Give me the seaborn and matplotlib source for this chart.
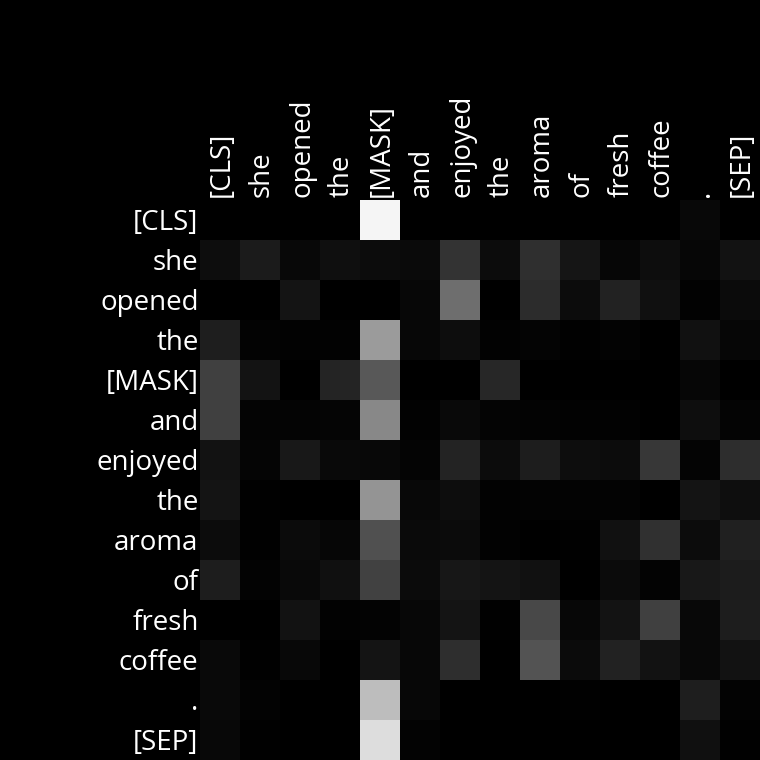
#!/usr/bin/env python
"""Attention map for a masked sentence, drawn as a grayscale heatmap."""

import matplotlib

matplotlib.use("Agg")
import matplotlib.pyplot as plt
import matplotlib.transforms as mtransforms
import numpy as np
import pandas as pd
import seaborn as sns

TOKENS = ["[CLS]", "she", "opened", "the", "[MASK]", "and", "enjoyed",
          "the", "aroma", "of", "fresh", "coffee", ".", "[SEP]"]

# attention weights (grey level / 255), one list per query row
ROW_CLS = [0, 0, 0, 0, 245, 0, 0, 0, 0, 0, 0, 0, 8, 0]
ROW_SHE = [13, 27, 8, 15, 12, 10, 51, 12, 47, 21, 6, 13, 6, 18]
ROW_OPENED = [0, 0, 20, 0, 0, 7, 110, 0, 44, 12, 34, 16, 2, 11]
ROW_THE_1 = [30, 3, 2, 2, 155, 7, 13, 2, 4, 1, 3, 0, 17, 6]
ROW_MASK = [64, 19, 0, 36, 88, 0, 0, 39, 0, 0, 0, 0, 6, 0]
ROW_AND = [64, 4, 4, 5, 136, 2, 9, 4, 3, 2, 2, 0, 14, 4]
ROW_ENJOYED = [18, 5, 24, 9, 8, 4, 35, 12, 29, 13, 12, 55, 4, 45]
ROW_THE_2 = [20, 1, 0, 0, 148, 8, 13, 2, 3, 3, 3, 0, 20, 14]
ROW_AROMA = [12, 1, 11, 6, 80, 10, 11, 2, 0, 1, 17, 48, 12, 32]
ROW_OF = [29, 3, 9, 16, 65, 11, 23, 20, 17, 0, 11, 3, 24, 28]
ROW_FRESH = [0, 0, 18, 2, 3, 7, 20, 1, 72, 7, 19, 64, 8, 29]
ROW_COFFEE = [9, 1, 8, 0, 20, 7, 46, 0, 83, 11, 34, 18, 8, 18]
ROW_DOT = [9, 3, 0, 0, 189, 7, 0, 0, 0, 1, 0, 0, 30, 3]
ROW_SEP = [8, 1, 0, 0, 221, 3, 0, 0, 0, 0, 0, 0, 16, 1]


def main() -> None:
    rows = [ROW_CLS, ROW_SHE, ROW_OPENED, ROW_THE_1, ROW_MASK, ROW_AND, ROW_ENJOYED,
            ROW_THE_2, ROW_AROMA, ROW_OF, ROW_FRESH, ROW_COFFEE, ROW_DOT, ROW_SEP]
    weights = pd.DataFrame(np.array(rows) / 255.0)

    sns.set_style("dark")
    plt.rcParams["font.family"] = ["Open Sans", "DejaVu Sans"]

    fig = plt.figure(figsize=(7.6, 7.6), dpi=100, facecolor="black")
    ax = fig.add_axes([200 / 760, 0, 560 / 760, 560 / 760])
    sns.heatmap(weights, cmap="gray", vmin=0, vmax=1, cbar=False, ax=ax,
                xticklabels=TOKENS, yticklabels=TOKENS)
    ax.xaxis.tick_top()
    ax.set_xticklabels(TOKENS, rotation=90, color="white", fontsize=20)
    ax.set_yticklabels(TOKENS, rotation=0, color="white", fontsize=20)
    ax.tick_params(axis="x", length=0, pad=2)
    ax.tick_params(axis="y", length=0, pad=1)
    ax.set_xlabel("")
    ax.set_ylabel("")
    for spine in ax.spines.values():
        spine.set_visible(False)

    # nudge labels a few pixels to sit where the reference puts them
    shift_y = mtransforms.ScaledTranslation(0, -3 / 100, fig.dpi_scale_trans)
    for label in ax.get_yticklabels():
        label.set_transform(label.get_transform() + shift_y)
    shift_x = mtransforms.ScaledTranslation(2 / 100, 0, fig.dpi_scale_trans)
    for label in ax.get_xticklabels():
        label.set_transform(label.get_transform() + shift_x)

    fig.savefig("out.png", dpi=100, facecolor="black")
    plt.close(fig)


if __name__ == "__main__":
    main()
